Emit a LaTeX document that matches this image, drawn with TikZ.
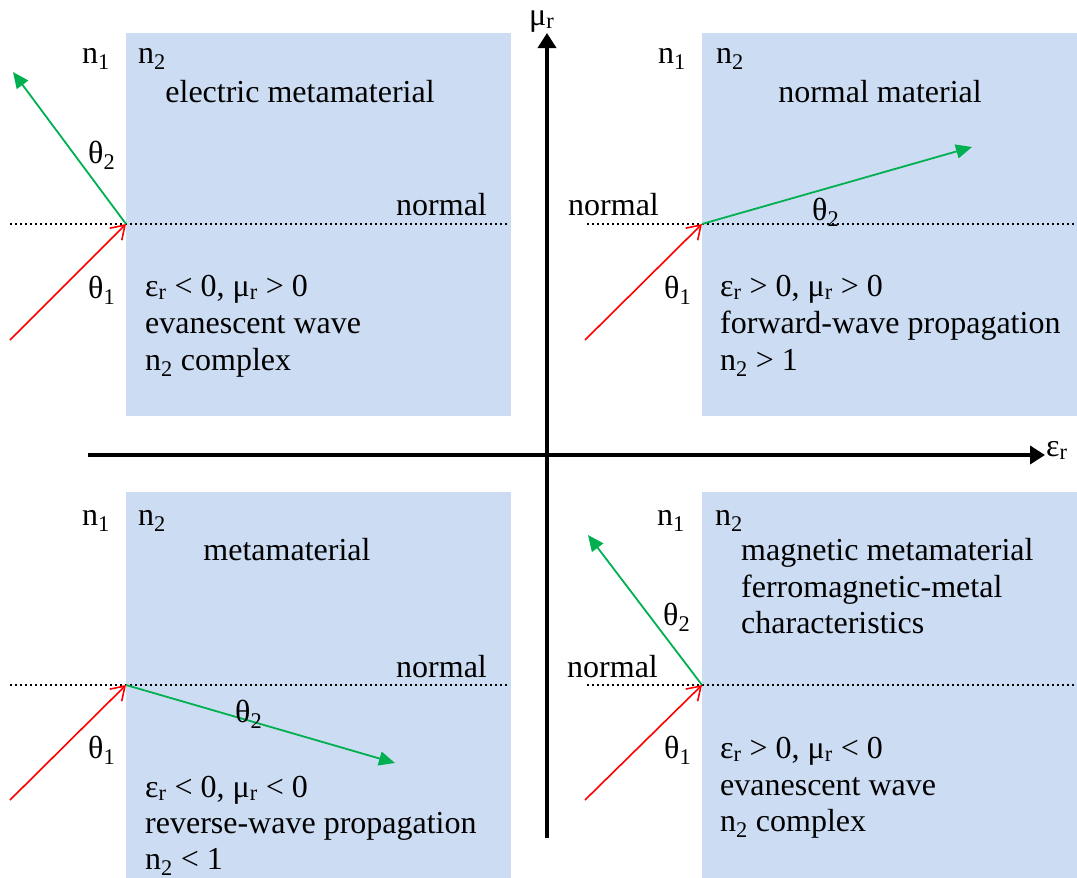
\documentclass[tikz,border=0pt]{standalone}
\usepackage{fontspec}
\setmainfont{Liberation Serif}
\usetikzlibrary{arrows.meta}
\definecolor{boxblue}{RGB}{204,220,242}
\definecolor{rgreen}{RGB}{0,176,80}
\definecolor{rred}{RGB}{255,0,0}
\newcommand\sbs[1]{\textsubscript{#1}}
\begin{document}
\begin{tikzpicture}[x=1pt,y=-1pt,
  every node/.style={inner sep=0pt, font=\fontsize{32}{37}\selectfont},
  lbl/.style={anchor=base west},
  ctr/.style={anchor=base},
  materialbox/.style={fill=boxblue, draw=none},
  normalline/.style={black, line width=2pt, dash pattern=on 2pt off 3pt},
  incident/.style={rred, line width=1.6pt, -{Straight Barb[length=13pt,width=17pt,line width=1.6pt]}},
  refracted/.style={rgreen, line width=1.8pt, -{Triangle[length=16pt,width=14pt]}},
  axis/.style={black, line width=4.5pt, -{Triangle[length=15pt,width=18pt]}}]
\useasboundingbox (0,0) rectangle (1077,878);

% ---------- material boxes ----------
\fill[materialbox] (126,33) rectangle (511,416);
\fill[materialbox] (702,33) rectangle (1077,416);
\fill[materialbox] (126,492) rectangle (511,878);
\fill[materialbox] (702,492) rectangle (1077,878);

% ---------- axes ----------
\coordinate (yb) at (547,838);
\coordinate (yt) at (547,33);
\coordinate (xl) at (88,455);
\coordinate (xr) at (1045,455);
\draw[axis] (yb) -- (yt);
\draw[axis] (xl) -- (xr);
\node[lbl] (mulabel) at (529,25) {μ\sbs{r}};
\node[lbl] (epslabel) at (1046,456) {ε\sbs{r}};

% ---------- top-left ----------
\coordinate (tlO) at (126,224);
\coordinate (tlL) at (10,224);
\coordinate (tlE) at (509,224);
\coordinate (tlG) at (13,72);
\coordinate (tlR) at (10,340);
\draw[normalline] (tlL) -- (tlE);
\draw[refracted] (tlO) -- (tlG);
\draw[incident] (tlR) -- (tlO);
\node[lbl] (tln1) at (82,63) {n\sbs{1}};
\node[lbl] (tln2) at (138,63) {n\sbs{2}};
\node[ctr] (tltitle) at (300,102) {electric metamaterial};
\node[lbl] (tlnormal) at (396,215) {normal};
\node[lbl] (tlt2) at (88,163) {θ\sbs{2}};
\node[lbl] (tlt1) at (88,298) {θ\sbs{1}};
\node[lbl] (tla) at (145,296) {ε\sbs{r} < 0, μ\sbs{r} > 0};
\node[lbl] (tlb) at (145,333) {evanescent wave};
\node[lbl] (tlc) at (145,370) {n\sbs{2} complex};

% ---------- top-right ----------
\coordinate (trO) at (702,224);
\coordinate (trL) at (587,224);
\coordinate (trE) at (1077,224);
\coordinate (trG) at (972,147);
\coordinate (trR) at (585,340);
\draw[normalline] (trL) -- (trE);
\draw[refracted] (trO) -- (trG);
\draw[incident] (trR) -- (trO);
\node[lbl] (trn1) at (658,63) {n\sbs{1}};
\node[lbl] (trn2) at (716,63) {n\sbs{2}};
\node[ctr] (trtitle) at (880,102) {normal material};
\node[lbl] (trnormal) at (568,215) {normal};
\node[lbl] (trt2) at (812,220) {θ\sbs{2}};
\node[lbl] (trt1) at (664,298) {θ\sbs{1}};
\node[lbl] (tra) at (720,296) {ε\sbs{r} > 0, μ\sbs{r} > 0};
\node[lbl] (trb) at (720,333) {forward-wave propagation};
\node[lbl] (trc) at (720,370) {n\sbs{2} > 1};

% ---------- bottom-left ----------
\coordinate (blO) at (126,685);
\coordinate (blL) at (10,685);
\coordinate (blE) at (509,685);
\coordinate (blG) at (395,763);
\coordinate (blR) at (10,800);
\draw[normalline] (blL) -- (blE);
\draw[refracted] (blO) -- (blG);
\draw[incident] (blR) -- (blO);
\node[lbl] (bln1) at (82,525) {n\sbs{1}};
\node[lbl] (bln2) at (138,525) {n\sbs{2}};
\node[ctr] (bltitle) at (287,560) {metamaterial};
\node[lbl] (blnormal) at (396,677) {normal};
\node[lbl] (blt2) at (235,722) {θ\sbs{2}};
\node[lbl] (blt1) at (88,758) {θ\sbs{1}};
\node[lbl] (bla) at (145,797) {ε\sbs{r} < 0, μ\sbs{r} < 0};
\node[lbl] (blb) at (145,833) {reverse-wave propagation};
\node[lbl] (blc) at (145,869) {n\sbs{2} < 1};

% ---------- bottom-right ----------
\coordinate (brO) at (702,685);
\coordinate (brL) at (587,685);
\coordinate (brE) at (1077,685);
\coordinate (brG) at (588,535);
\coordinate (brR) at (585,800);
\draw[normalline] (brL) -- (brE);
\draw[refracted] (brO) -- (brG);
\draw[incident] (brR) -- (brO);
\node[lbl] (brn1) at (657,525) {n\sbs{1}};
\node[lbl] (brn2) at (715,525) {n\sbs{2}};
\node[lbl] (brta) at (741,560) {magnetic metamaterial};
\node[lbl] (brtb) at (741,597) {ferromagnetic-metal};
\node[lbl] (brtc) at (741,633) {characteristics};
\node[lbl] (brnormal) at (567,677) {normal};
\node[lbl] (brt2) at (663,625) {θ\sbs{2}};
\node[lbl] (brt1) at (664,758) {θ\sbs{1}};
\node[lbl] (bra) at (720,758) {ε\sbs{r} > 0, μ\sbs{r} < 0};
\node[lbl] (brb) at (720,795) {evanescent wave};
\node[lbl] (brc) at (720,831) {n\sbs{2} complex};
\end{tikzpicture}
\end{document}
